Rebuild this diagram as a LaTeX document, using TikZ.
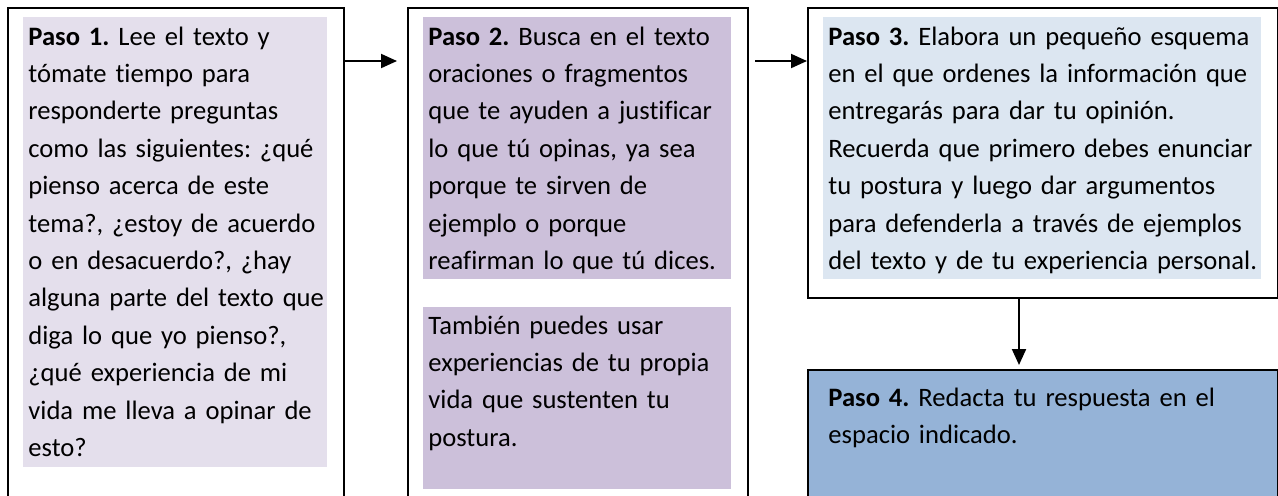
\documentclass[tikz,border=0pt]{standalone}
\usepackage{fontspec}
\setmainfont{Carlito}[Ligatures=NoCommon]
\usepackage{tikz}
\usetikzlibrary{arrows.meta}
\definecolor{lila}{HTML}{E4DFEC}
\definecolor{lilaoscuro}{HTML}{CCC0DA}
\definecolor{celeste}{HTML}{DCE6F1}
\definecolor{azul}{HTML}{95B3D7}
\frenchspacing

\begin{document}
\begin{tikzpicture}[x=0.5pt, y=-0.5pt,
    marco/.style={draw=black, line width=1pt, anchor=north west, inner sep=0pt},
    sombra/.style={anchor=north west, inner sep=0pt},
    texto/.style={anchor=base west, inner sep=0pt, align=left, text width=240pt,
        font=\fontsize{13.3}{18.7}\selectfont},
    flecha/.style={-{Triangle[length=8pt,width=7pt]}, line width=1pt}]
    % Page size
    \clip (0,0) rectangle (1278,495);

    % Draw the frames
    \node[marco, minimum width=168pt, minimum height=252pt] (marco1) at (7,7) {};
    \node[marco, minimum width=170pt, minimum height=252pt] (marco2) at (407,7) {};
    \node[marco, minimum width=235pt, minimum height=145pt] (marco3) at (807,7) {};
    \node[marco, fill=azul, minimum width=235pt, minimum height=80pt] (marco4) at (807,369) {};

    % Shaded text areas
    \node[sombra, fill=lila, minimum width=152pt, minimum height=225pt] (sombra1) at (23,17) {};
    \node[sombra, fill=lilaoscuro, minimum width=154pt, minimum height=131pt] (sombra2) at (423,17) {};
    \node[sombra, fill=lilaoscuro, minimum width=154pt, minimum height=91pt] (sombra2b) at (423,307) {};
    \node[sombra, fill=celeste, minimum width=219pt, minimum height=131pt] (sombra3) at (823,17) {};

    % Texts of the steps
    \node[texto] (paso1) at (28,45) {\textbf{Paso 1.} Lee el texto y\\
        tómate tiempo para\\
        responderte preguntas\\
        como las siguientes: ¿qué\\
        pienso acerca de este\\
        tema?, ¿estoy de acuerdo\\
        o en desacuerdo?, ¿hay\\
        alguna parte del texto que\\
        diga lo que yo pienso?,\\
        ¿qué experiencia de mi\\
        vida me lleva a opinar de\\
        esto?};
    \node[texto] (paso2) at (428,45) {\textbf{Paso 2.} Busca en el texto\\
        oraciones o fragmentos\\
        que te ayuden a justificar\\
        lo que tú opinas, ya sea\\
        porque te sirven de\\
        ejemplo o porque\\
        reafirman lo que tú dices.};
    \node[texto] (paso2b) at (428,334) {También puedes usar\\
        experiencias de tu propia\\
        vida que sustenten tu\\
        postura.};
    \node[texto] (paso3) at (828,45) {\textbf{Paso 3.} Elabora un pequeño esquema\\
        en el que ordenes la información que\\
        entregarás para dar tu opinión.\\
        Recuerda que primero debes enunciar\\
        tu postura y luego dar argumentos\\
        para defenderla a través de ejemplos\\
        del texto y de tu experiencia personal.};
    \node[texto] (paso4) at (828,406) {\textbf{Paso 4.} Redacta tu respuesta en el\\
        espacio indicado.};

    % Arrows between the steps
    \draw[flecha] ([yshift=-27pt]marco1.north east) -- ([xshift=-5pt,yshift=-27pt]marco2.north west);
    \draw[flecha] ([xshift=3pt,yshift=-27pt]marco2.north east) -- ([yshift=-27pt]marco3.north west);
    \draw[flecha] ([xshift=106pt]marco3.south west) -- ([xshift=106pt,yshift=2pt]marco4.north west);
\end{tikzpicture}
\end{document}
